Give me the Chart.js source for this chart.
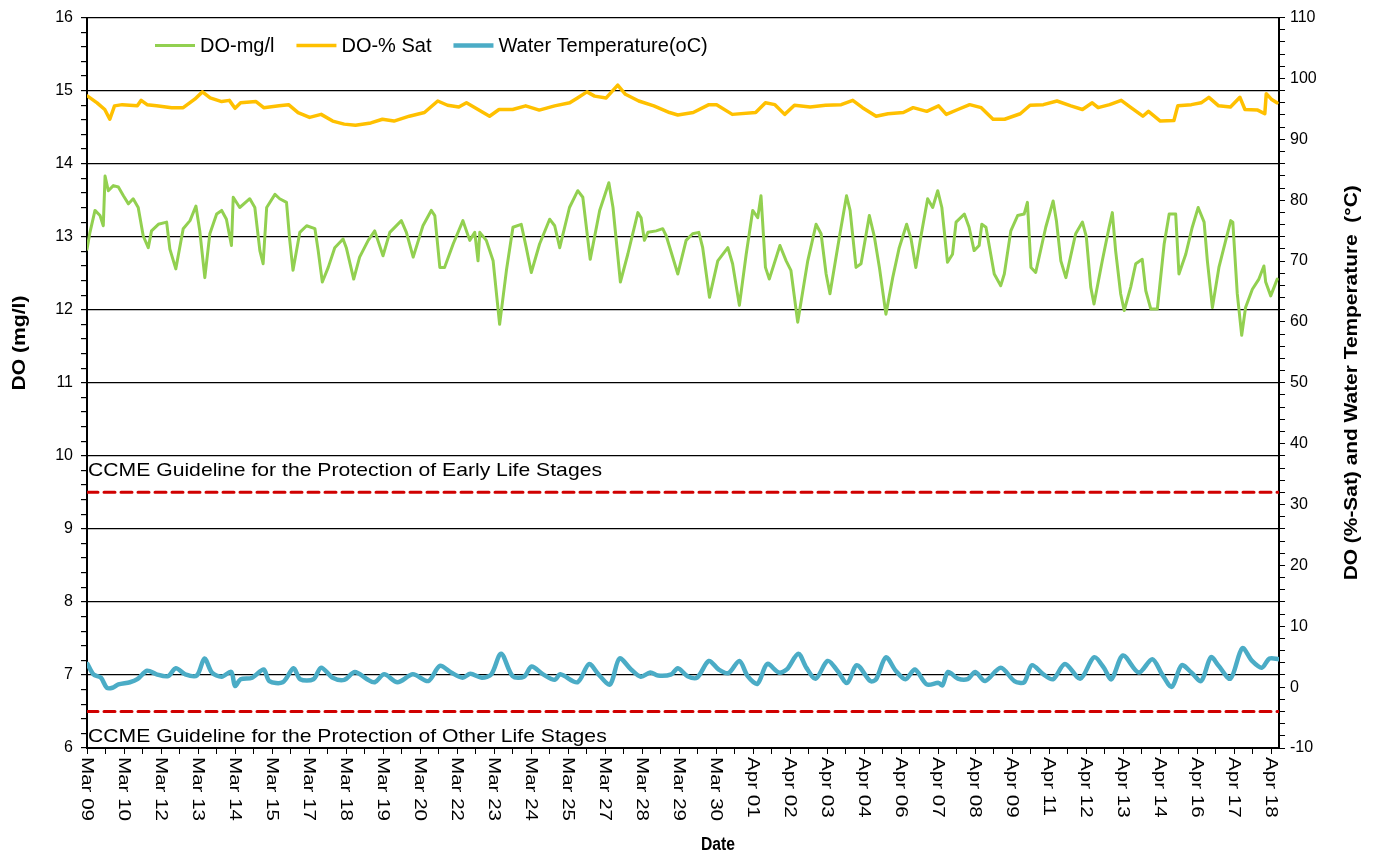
<!DOCTYPE html>
<html>
<head>
<meta charset="utf-8">
<title>DO and Water Temperature</title>
<script src="https://cdn.jsdelivr.net/npm/chart.js@4.4.1/dist/chart.umd.min.js"></script>
<style>
  html, body { margin: 0; padding: 0; background: #fff; }
</style>
</head>
<body>
<canvas id="chart" width="1373" height="854"></canvas>
<script>
// 日期标签 (每 1.25 天一个)
const dateLabels = ['Mar 09', 'Mar 10', 'Mar 12', 'Mar 13', 'Mar 14', 'Mar 15', 'Mar 17', 'Mar 18', 'Mar 19',
    'Mar 20', 'Mar 22', 'Mar 23', 'Mar 24', 'Mar 25', 'Mar 27', 'Mar 28', 'Mar 29', 'Mar 30', 'Apr 01',
    'Apr 02', 'Apr 03', 'Apr 04', 'Apr 06', 'Apr 07', 'Apr 08', 'Apr 09', 'Apr 11', 'Apr 12', 'Apr 13',
    'Apr 14', 'Apr 16', 'Apr 17', 'Apr 18'];
const labelStep = 1.25;   // 标签间隔(天)
const xMax = 40.27;       // 最后一个读数(天)

// DO-mg/l (天, mg/l)
const doDays = [0.00, 0.10, 0.27, 0.44, 0.55, 0.61, 0.72, 0.89, 1.06, 1.23, 1.40, 1.56, 1.73, 1.90, 2.07, 2.18,
    2.41, 2.69, 2.80, 3.00, 3.25, 3.48, 3.68, 3.81, 3.98, 4.15, 4.38, 4.55, 4.71, 4.88, 4.94, 5.16, 5.50, 5.67,
    5.84, 5.95, 6.07, 6.35, 6.51, 6.74, 6.85, 6.96, 7.19, 7.42, 7.70, 7.81, 7.95, 8.15, 8.37, 8.65, 8.76, 9.01,
    9.21, 9.50, 9.72, 10.00, 10.23, 10.62, 10.79, 11.02, 11.35, 11.63, 11.75, 11.92, 12.08, 12.37, 12.70, 12.93,
    13.10, 13.21, 13.27, 13.49, 13.72, 13.94, 14.17, 14.39, 14.67, 14.84, 15.01, 15.29, 15.63, 15.80, 15.97,
    16.30, 16.58, 16.75, 17.00, 17.32, 17.63, 17.77, 18.02, 18.27, 18.61, 18.72, 18.83, 18.95, 19.23, 19.45,
    19.57, 19.96, 20.24, 20.46, 20.67, 20.80, 21.03, 21.31, 21.65, 21.81, 22.04, 22.27, 22.49, 22.66, 22.77,
    22.92, 23.05, 23.41, 23.62, 23.78, 24.01, 24.35, 24.63, 24.80, 24.97, 25.10, 25.42, 25.66, 25.78, 25.98,
    26.15, 26.43, 26.60, 26.77, 26.99, 27.22, 27.44, 27.69, 27.84, 28.00, 28.17, 28.40, 28.57, 28.74, 28.88,
    29.07, 29.24, 29.36, 29.64, 29.80, 29.97, 30.14, 30.23, 30.37, 30.65, 30.87, 30.99, 31.21, 31.44, 31.66,
    31.77, 31.89, 32.05, 32.39, 32.64, 32.75, 32.90, 33.07, 33.40, 33.63, 33.76, 33.91, 34.02, 34.30, 34.53,
    34.64, 34.75, 34.92, 35.04, 35.26, 35.43, 35.65, 35.77, 35.94, 36.16, 36.39, 36.56, 36.78, 36.89, 37.12,
    37.34, 37.54, 37.74, 37.85, 38.02, 38.24, 38.47, 38.64, 38.71, 38.86, 39.01, 39.14, 39.37, 39.59, 39.76,
    39.82, 39.99, 40.21];
const doMgl = [12.83, 13.06, 13.36, 13.29, 13.15, 13.83, 13.63, 13.70, 13.68, 13.56, 13.45, 13.52, 13.40, 13.01,
    12.85, 13.08, 13.17, 13.20, 12.83, 12.56, 13.11, 13.22, 13.42, 13.08, 12.44, 13.04, 13.31, 13.36, 13.24,
    12.88, 13.54, 13.40, 13.52, 13.40, 12.81, 12.63, 13.40, 13.58, 13.52, 13.47, 12.95, 12.54, 13.06, 13.15,
    13.11, 12.81, 12.38, 12.58, 12.85, 12.97, 12.85, 12.42, 12.72, 12.95, 13.08, 12.74, 13.06, 13.22, 13.06,
    12.72, 13.15, 13.36, 13.29, 12.58, 12.58, 12.90, 13.22, 12.95, 13.06, 12.67, 13.06, 12.95, 12.67, 11.80,
    12.54, 13.13, 13.17, 12.85, 12.51, 12.90, 13.24, 13.15, 12.85, 13.40, 13.63, 13.54, 12.69, 13.36, 13.74,
    13.40, 12.38, 12.76, 13.33, 13.26, 12.95, 13.06, 13.08, 13.11, 13.01, 12.49, 12.95, 13.04, 13.06, 12.85,
    12.17, 12.67, 12.85, 12.63, 12.06, 12.76, 13.36, 13.26, 13.56, 12.58, 12.42, 12.88, 12.67, 12.54, 11.83,
    12.67, 13.17, 13.04, 12.49, 12.22, 13.00, 13.56, 13.36, 12.58, 12.63, 13.29, 13.00, 12.58, 11.94, 12.44,
    12.85, 13.17, 12.97, 12.58, 13.00, 13.52, 13.40, 13.63, 13.40, 12.65, 12.76, 13.20, 13.31, 13.13, 12.81,
    12.88, 13.17, 13.13, 12.49, 12.33, 12.49, 13.08, 13.29, 13.31, 13.47, 12.58, 12.51, 13.13, 13.49, 13.22,
    12.67, 12.44, 13.04, 13.20, 13.00, 12.31, 12.08, 12.67, 13.13, 13.33, 12.81, 12.22, 11.99, 12.31, 12.63,
    12.69, 12.26, 12.01, 12.01, 12.90, 13.31, 13.31, 12.49, 12.76, 13.13, 13.40, 13.20, 12.67, 12.03, 12.58,
    12.95, 13.22, 13.20, 12.22, 11.65, 12.03, 12.28, 12.42, 12.60, 12.38, 12.19, 12.42];

// DO-% Sat (天, %)
const satDays = [0.02, 0.34, 0.60, 0.77, 0.93, 1.19, 1.70, 1.83, 2.03, 2.35, 2.86, 3.25, 3.64, 3.90, 4.16, 4.55,
    4.81, 5.00, 5.19, 5.71, 5.97, 6.49, 6.81, 7.13, 7.52, 7.91, 8.30, 8.69, 9.07, 9.59, 9.98, 10.37, 10.89,
    11.40, 11.85, 12.18, 12.56, 12.82, 13.21, 13.60, 13.92, 14.38, 14.82, 15.28, 15.80, 16.31, 16.57, 16.89,
    17.15, 17.54, 17.93, 18.19, 18.64, 19.15, 19.68, 19.96, 20.48, 21.01, 21.27, 21.80, 22.59, 22.92, 23.24,
    23.57, 23.90, 24.43, 24.95, 25.48, 25.87, 26.20, 26.66, 27.06, 27.58, 27.91, 28.37, 28.77, 29.03, 29.42,
    29.82, 30.21, 30.61, 31.00, 31.53, 31.86, 32.31, 32.77, 33.24, 33.63, 33.96, 34.16, 34.55, 34.94, 35.27,
    35.67, 35.86, 36.26, 36.72, 36.85, 37.31, 37.64, 37.90, 38.23, 38.63, 38.95, 39.12, 39.55, 39.79, 39.84,
    40.01, 40.20];
const satPct = [97.1, 96.0, 94.9, 93.3, 95.5, 95.7, 95.5, 96.4, 95.7, 95.5, 95.2, 95.2, 96.6, 97.8, 96.8, 96.2,
    96.4, 95.1, 96.0, 96.2, 95.2, 95.5, 95.7, 94.4, 93.6, 94.1, 93.0, 92.5, 92.3, 92.7, 93.3, 93.0, 93.8,
    94.4, 96.3, 95.6, 95.3, 96.0, 94.9, 93.8, 94.9, 94.9, 95.5, 94.8, 95.5, 96.0, 96.8, 97.8,
    97.1, 96.8, 98.9, 97.4, 96.3, 95.5, 94.4, 94.0, 94.4, 95.7, 95.7, 94.1, 94.4, 96.0, 95.7,
    94.1, 95.6, 95.3, 95.6, 95.7, 96.4, 95.2, 93.8, 94.2, 94.4, 95.2, 94.6, 95.5, 94.1, 94.9,
    95.7, 95.2, 93.3, 93.3, 94.2, 95.6, 95.7, 96.3, 95.5, 94.9, 96.0, 95.2, 95.7, 96.4, 95.2,
    93.8, 94.6, 93.0, 93.1, 95.5, 95.7, 96.0, 96.9, 95.5, 95.3, 96.9, 94.9, 94.8, 94.2, 97.5,
    96.6, 96.0];

// Water Temperature (天, °C)
const tempDays = [0.02, 0.22, 0.47, 0.67, 0.86, 1.06, 1.45, 1.70, 2.03, 2.35, 2.74, 3.00, 3.32, 3.71, 3.97, 4.22,
    4.55, 4.87, 5.00, 5.19, 5.58, 5.97, 6.16, 6.61, 6.98, 7.20, 7.65, 7.91, 8.30, 8.69, 9.05, 9.46, 9.72, 10.04,
    10.49, 11.01, 11.53, 11.92, 12.30, 12.69, 12.95, 13.34, 13.66, 13.99, 14.38, 14.76, 15.02, 15.41, 15.80,
    15.99, 16.57, 16.96, 17.28, 17.67, 17.99, 18.38, 18.71, 19.03, 19.29, 19.74, 19.96, 20.29, 20.61, 21.01,
    21.34, 21.67, 22.04, 22.32, 22.65, 22.98, 23.37, 23.64, 24.03, 24.30, 24.62, 25.02, 25.35, 25.68, 26.01,
    26.46, 26.66, 26.99, 27.32, 27.65, 27.97, 28.37, 28.77, 28.90, 29.09, 29.42, 29.75, 30.01, 30.34, 30.87,
    31.33, 31.66, 31.92, 32.31, 32.64, 33.04, 33.56, 34.02, 34.35, 34.61, 35.00, 35.53, 35.99, 36.32, 36.65,
    36.98, 37.31, 37.64, 37.97, 38.23, 38.63, 39.03, 39.36, 39.69, 39.95, 40.27];
const tempC = [3.8, 2.1, 1.55, -0.1, -0.1, 0.45, 0.8, 1.3, 2.7, 2.1, 1.8, 3.1, 2.1, 1.9, 4.7, 2.4,
    1.7, 2.5, 0.2, 1.3, 1.55, 2.9, 1.0, 0.8, 3.1, 1.3, 1.3, 3.2, 1.55, 1.2, 2.5, 1.3, 0.8, 2.1,
    0.8, 2.1, 1.0, 3.5, 2.4, 1.55, 2.2, 1.55, 2.1, 5.5, 1.8, 1.7, 3.4, 2.1, 1.2,
    2.1, 0.8, 3.8, 2.1, 0.45, 4.7, 2.9, 1.7, 2.4, 1.9, 2.1, 3.1, 1.8, 1.55, 4.3,
    2.9, 2.3, 4.3, 1.8, 0.55, 3.8, 2.4, 2.9, 5.5, 3.2, 1.4, 4.3, 2.7, 0.7, 3.6,
    1.0, 1.3, 4.9, 2.7, 1.3, 2.9, 0.45, 0.7, 0.3, 2.5, 1.4, 1.3, 2.5, 1.0, 3.2,
    1.0, 0.8, 3.6, 2.1, 1.3, 3.8, 1.4, 4.9, 3.2, 1.3, 5.2, 2.4, 4.6, 2.1, 0.05,
    3.6, 2.4, 1.0, 4.9, 3.5, 1.4, 6.4, 4.3, 3.2, 4.7, 4.6];

// CCME 指导值 (mg/l)
const guideEarly = 9.5;
const guideOther = 6.5;

const FONT = '"Liberation Sans", Arial, sans-serif';

function pts(xs, ys) {
    return xs.map((x, i) => ({ x: x, y: ys[i] }));
}

function isInt(v) {
    return Math.abs(v - Math.round(v)) < 1e-6;
}

// 画文字, k 为水平拉伸系数
function drawText(ctx, text, x, y, k, angle, align) {
    ctx.save();
    ctx.translate(x, y);
    if (angle) ctx.rotate(angle);
    ctx.scale(k || 1, 1);
    ctx.textAlign = align || 'left';
    ctx.fillText(text, 0, 0);
    ctx.restore();
}

// 标签、标题、图例
const textPlugin = {
    id: 'textPlugin',
    afterDraw(chart) {
        const ctx = chart.ctx;
        const xs = chart.scales.x;
        const area = chart.chartArea;
        ctx.save();
        ctx.fillStyle = '#000';
        ctx.textBaseline = 'middle';

        // 日期标签, 顺时针旋转
        ctx.font = '17px ' + FONT;
        const kx = 64 / ctx.measureText('Mar 09').width;
        dateLabels.forEach((lab, i) => {
            drawText(ctx, lab, xs.getPixelForValue(i * labelStep), xs.top + 9, kx, Math.PI / 2);
        });

        // 指导值说明
        ctx.font = '19px ' + FONT;
        const t1 = 'CCME Guideline for the Protection of Early Life Stages';
        const t2 = 'CCME Guideline for the Protection of Other Life Stages';
        const kg = 514 / ctx.measureText(t1).width;
        const yL = chart.scales.y;
        drawText(ctx, t1, area.left + 1, yL.getPixelForValue(guideEarly) - 22, kg);
        drawText(ctx, t2, area.left + 1, yL.getPixelForValue(guideOther) + 25, kg);

        // 坐标轴标题
        ctx.font = 'bold 18px ' + FONT;
        let k = 95 / ctx.measureText('DO (mg/l)').width;
        drawText(ctx, 'DO (mg/l)', 20, 343, k, -Math.PI / 2, 'center');
        const rt = 'DO (%-Sat) and Water Temperature  (°C)';
        k = 395 / ctx.measureText(rt).width;
        drawText(ctx, rt, 1352, (area.top + area.bottom) / 2, k, -Math.PI / 2, 'center');
        k = 34 / ctx.measureText('Date').width;
        drawText(ctx, 'Date', (area.left + area.right) / 2 + 35, 845, k, 0, 'center');

        // 图例
        ctx.font = '20px ' + FONT;
        let x = 155;
        const ly = area.top + 28;
        chart.data.datasets.slice(0, 3).forEach(ds => {
            ctx.strokeStyle = ds.borderColor;
            ctx.lineWidth = ds.borderWidth;
            ctx.beginPath();
            ctx.moveTo(x, ly);
            ctx.lineTo(x + 40, ly);
            ctx.stroke();
            x += 45;
            ctx.textAlign = 'left';
            ctx.fillText(ds.label, x, ly + 1);
            x += ctx.measureText(ds.label).width + 22;
        });
        ctx.restore();
    }
};

const ctx = document.getElementById('chart').getContext('2d');
new Chart(ctx, {
    type: 'line',
    data: {
        datasets: [
            {
                label: 'DO-mg/l',
                data: pts(doDays, doMgl),
                borderColor: '#92D050',
                borderWidth: 3,
                yAxisID: 'y',
                tension: 0
            },
            {
                label: 'DO-% Sat',
                data: pts(satDays, satPct),
                borderColor: '#FFC000',
                borderWidth: 3.5,
                yAxisID: 'y1',
                tension: 0
            },
            {
                label: 'Water Temperature(oC)',
                data: pts(tempDays, tempC),
                borderColor: '#4BACC6',
                borderWidth: 4.5,
                yAxisID: 'y1',
                tension: 0.3
            },
            {
                label: 'early',
                data: [{ x: 0, y: guideEarly }, { x: xMax, y: guideEarly }],
                borderColor: '#D00000',
                borderWidth: 3,
                borderDash: [11, 6],
                yAxisID: 'y'
            },
            {
                label: 'other',
                data: [{ x: 0, y: guideOther }, { x: xMax, y: guideOther }],
                borderColor: '#D00000',
                borderWidth: 3,
                borderDash: [11, 6],
                yAxisID: 'y'
            }
        ]
    },
    options: {
        responsive: false,
        animation: false,
        layout: { padding: { top: 17, left: 0, right: 0, bottom: 0 } },
        elements: { point: { radius: 0 }, line: { borderJoinStyle: 'round', borderCapStyle: 'round' } },
        plugins: { legend: { display: false }, tooltip: { enabled: false } },
        scales: {
            x: {
                type: 'linear',
                min: 0,
                max: xMax,
                offset: false,
                grid: { drawOnChartArea: false, color: '#000', tickLength: 6 },
                border: { color: '#000', width: 2 },
                ticks: { display: false },
                afterBuildTicks: s => {
                    s.ticks = [];
                    for (let i = 0; i <= 2 * (dateLabels.length - 1); i++) {
                        s.ticks.push({ value: i * labelStep / 2 });
                    }
                },
                afterFit: s => { s.height = 106; }
            },
            y: {
                position: 'left',
                min: 6,
                max: 16,
                afterBuildTicks: s => {
                    s.ticks = [];
                    for (let i = 0; i <= 50; i++) s.ticks.push({ value: Math.round((6 + i * 0.2) * 10) / 10 });
                },
                ticks: {
                    autoSkip: false,
                    color: '#000',
                    padding: 8,
                    font: { family: FONT, size: 16 },
                    callback: v => isInt(v) ? String(Math.round(v)) : ''
                },
                grid: {
                    color: c => (c.tick && isInt(c.tick.value)) ? '#000' : 'rgba(0,0,0,0)',
                    tickColor: '#000',
                    tickLength: 6,
                    lineWidth: 1.2
                },
                border: { color: '#000', width: 2 },
                afterFit: s => { s.width = 87; }
            },
            y1: {
                position: 'right',
                min: -10,
                max: 110,
                afterBuildTicks: s => {
                    s.ticks = [];
                    for (let v = -10; v <= 110; v += 2) s.ticks.push({ value: v });
                },
                ticks: {
                    autoSkip: false,
                    color: '#000',
                    padding: 5,
                    font: { family: FONT, size: 16 },
                    callback: v => (v % 10 === 0) ? String(v) : ''
                },
                grid: { drawOnChartArea: false, color: '#000', tickLength: 6 },
                border: { color: '#000', width: 2 },
                afterFit: s => { s.width = 94; }
            }
        }
    },
    plugins: [textPlugin]
});
</script>
</body>
</html>
